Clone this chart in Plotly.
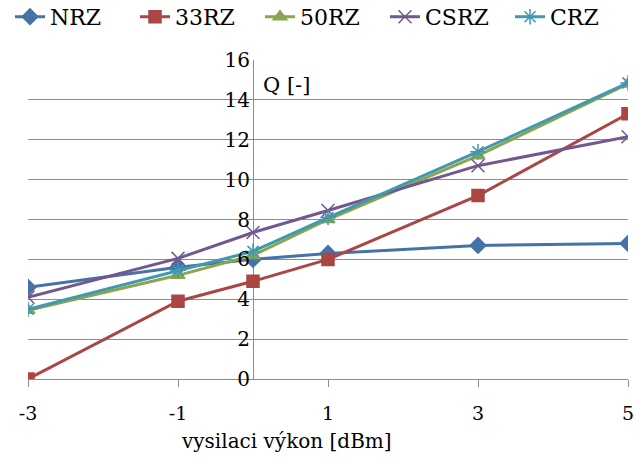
import plotly.graph_objects as go

# Transmit power [dBm] and Q-factor per modulation format
power_dbm = [-3, -1, 0, 1, 3, 5]
q_nrz = [4.6, 5.6, 6.0, 6.3, 6.7, 6.8]
q_33rz = [0.0, 3.9, 4.9, 6.0, 9.2, 13.3]
q_50rz = [3.45, 5.2, 6.2, 8.0, 11.2, 14.8]
q_csrz = [4.1, 6.05, 7.35, 8.45, 10.7, 12.15]
q_crz = [3.5, 5.45, 6.4, 8.1, 11.4, 14.85]

x_ticks = [-3, -1, 1, 3, 5]
x_labels = ["-3", "-1", "1", "3", "5"]
y_ticks = [0, 2, 4, 6, 8, 10, 12, 14, 16]

FONT = "DejaVu Serif"
GRID = "#8c8c8c"

series = [
    ("NRZ", q_nrz, "#4572A7", dict(symbol="diamond", size=12)),
    ("33RZ", q_33rz, "#AA4643", dict(symbol="square", size=12)),
    ("50RZ", q_50rz, "#89A54E", dict(symbol="triangle-up", size=12)),
    ("CSRZ", q_csrz, "#71588F", dict(symbol="x-thin", size=13)),
    ("CRZ", q_crz, "#4198AF", dict(symbol="asterisk", size=13)),
]

fig = go.Figure()
for name, vals, color, mk in series:
    fig.add_trace(go.Scatter(
        x=power_dbm, y=vals, name=name, mode="lines+markers",
        line=dict(color=color, width=3),
        marker=dict(color=color, line=dict(color=color, width=1.5), **mk),
    ))

fig.update_layout(
    width=636, height=461,
    margin=dict(l=28, r=8, t=60, b=82, autoexpand=False),
    paper_bgcolor="white", plot_bgcolor="white",
    font=dict(family=FONT, size=20, color="black"),
    legend=dict(
        orientation="h", x=-0.03, xanchor="left", y=1.135, yanchor="middle",
        font=dict(size=22, family=FONT),
        itemwidth=30, tracegroupgap=0, bgcolor="rgba(0,0,0,0)",
        entrywidth=80, entrywidthmode="pixels",
    ),
    xaxis=dict(
        range=[-3, 5], tickvals=x_ticks, ticktext=x_labels, showgrid=False,
        zeroline=True, zerolinecolor=GRID, zerolinewidth=1,
        showline=True, linecolor=GRID, linewidth=1,
        ticks="outside", ticklen=7, tickcolor=GRID,
        ticklabelstandoff=10, ticklabeloverflow="allow",
        tickfont=dict(size=19, family=FONT),
    ),
    yaxis=dict(
        range=[0, 16], tickvals=y_ticks, showgrid=True,
        gridcolor=GRID, gridwidth=1, zeroline=False, showline=False,
        anchor="free", position=3 / 8, ticks="",
        ticklabelstandoff=3, tickfont=dict(size=20, family=FONT),
    ),
    annotations=[
        dict(text="Q [-]", xref="paper", yref="paper", x=0.389, y=0.922,
             xanchor="left", yanchor="middle", showarrow=False,
             font=dict(size=21, family=FONT)),
        dict(text="vysilaci výkon [dBm]", xref="paper", yref="paper",
             x=0.43, y=-0.195, xanchor="center", yanchor="middle",
             showarrow=False, font=dict(size=20, family=FONT)),
    ],
)

fig.write_html("out.html")
